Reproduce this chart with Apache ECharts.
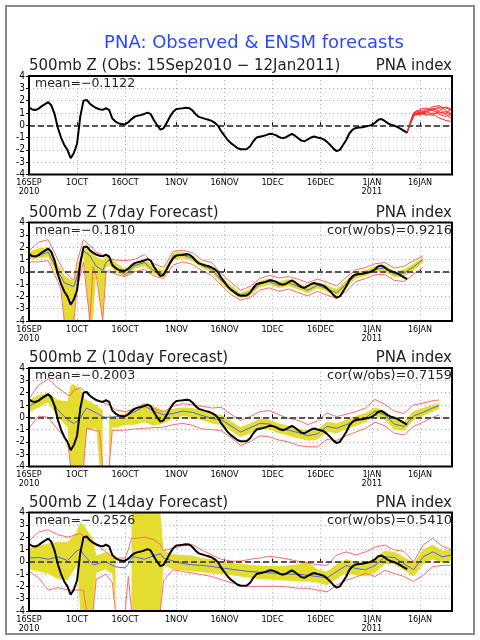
<!DOCTYPE html>
<html><head><meta charset="utf-8">
<script src="https://cdn.jsdelivr.net/npm/echarts@6/dist/echarts.min.js"></script>
<style>html,body{margin:0;padding:0;background:#fff}#c{width:480px;height:640px}</style>
</head><body><div id="c"></div>
<script>
// ---------- axis categories (one per day, 16 Sep 2010 .. 26 Jan 2011) ----------
const MONTHS = ['JAN','FEB','MAR','APR','MAY','JUN','JUL','AUG','SEP','OCT','NOV','DEC'];
const START = Date.UTC(2010, 8, 16);
const NDAYS = 133;
const categories = Array.from({length: NDAYS}, (_, i) => new Date(START + i * 86400000).toISOString().slice(0, 10));
const yTicks = [-4, 4, 1];

// ---------- observed PNA index (daily, from 16 Sep) ----------
const obs = [1.46,1.28,1.24,1.35,1.55,1.72,1.88,1.6,0.9,-0.2,
 -1.0,-1.6,-2.0,-2.68,-2.25,-1.5,0.7,2.0,2.05,1.75,
 1.55,1.4,1.3,1.25,1.38,1.25,0.55,0.3,0.15,0.08,
 0.08,0.25,0.5,0.7,0.78,0.84,0.92,1.02,0.9,0.4,
 0.0,-0.35,-0.25,0.2,0.7,1.1,1.32,1.35,1.38,1.42,
 1.4,1.2,0.9,0.68,0.6,0.52,0.45,0.35,0.2,-0.05,
 -0.5,-0.85,-1.2,-1.45,-1.65,-1.85,-1.95,-1.95,-1.92,-1.7,
 -1.3,-1.0,-0.93,-0.87,-0.8,-0.7,-0.72,-0.8,-0.95,-1.05,
 -1.0,-0.85,-0.7,-0.85,-1.05,-1.25,-1.3,-1.15,-1.0,-0.92,
 -1.0,-1.05,-1.15,-1.35,-1.6,-1.9,-2.1,-2.0,-1.6,-1.2,
 -0.65,-0.35,-0.22,-0.18,-0.16,-0.1,-0.05,0.03,0.2,0.45,
 0.5,0.35,0.15,0.05,-0.03,-0.15,-0.3,-0.45,-0.6];

// ---------- ensemble member forecasts (panel 1) ----------
const memDays = [118,119,120,121,122,124,126,128,130,132];
const mem1 = [-0.6,0.2,0.9,1.1,1.0,1.3,1.2,1.5,1.4,1.2];
const mem2 = [-0.6,0.1,0.8,1.0,0.9,1.0,1.4,1.1,0.9,0.5];
const mem3 = [-0.6,0.3,1.0,1.2,1.1,0.9,0.8,1.2,1.5,1.3];
const mem4 = [-0.6,0.2,0.9,0.8,1.2,1.1,0.9,0.6,0.4,0.3];
const mem5 = [-0.6,0.1,0.7,1.0,0.8,1.2,1.5,1.6,1.2,0.9];
const mem6 = [-0.6,0.2,0.8,0.9,1.0,0.8,1.0,0.9,0.7,1.0];
const mem7 = [-0.6,0.2,1.0,1.1,1.3,1.4,1.2,1.0,1.1,0.7];
const mem8 = [-0.6,0.1,0.8,0.9,0.9,1.1,1.3,1.4,0.9,1.4];

// ---------- 7 day forecast ----------
const p7Days = [0,3,6,9,10,11,14,15,17,19,20,21,23,24,25,27,30,33,36,39,42,45,48,51,54,57,60,63,66,69,72,75,78,81,84,87,90,93,96,99,102,105,108,111,114,117,120,123];
const p7Mean = [1.2,1.3,1.6,0.0,-0.4,-0.9,-1.2,-0.4,1.7,1.3,
 0.85,0.45,0.1,0.75,0.95,0.35,-0.25,0.5,0.75,0.05,
 -0.2,1.3,1.35,1.1,0.5,0.2,-0.7,-1.4,-1.9,-1.7,
 -1.0,-0.8,-1.1,-0.9,-1.2,-1.5,-1.1,-1.4,-1.7,-1.0,
 -0.3,-0.1,0.2,0.3,-0.2,-0.1,0.4,1.0];
const p7Lo = [1.0,1.1,1.2,-0.5,-0.8,-4,-4,-1.0,1.3,-4,
 -4,0.0,-4,0.3,0.5,0.0,-0.45,0.25,0.45,-0.2,
 -0.45,0.95,1.1,0.85,0.3,-0.05,-0.95,-1.65,-2.15,-1.95,
 -1.25,-1.05,-1.35,-1.15,-1.45,-1.75,-1.35,-1.65,-1.95,-1.3,
 -0.55,-0.35,-0.05,0.05,-0.45,-0.4,0.1,0.75];
const p7Hi = [1.6,1.9,2.0,0.6,0.2,-0.3,-0.8,0.4,2.0,1.7,
 1.5,1.2,1.0,1.2,1.2,0.8,0.2,0.8,1.05,0.45,
 0.1,1.55,1.6,1.35,0.75,0.45,-0.4,-1.1,-1.7,-1.4,
 -0.75,-0.55,-0.8,-0.6,-0.95,-1.2,-0.85,-1.1,-1.4,-0.7,
 -0.05,0.15,0.45,0.55,0.05,0.2,0.65,1.2];
const p7RedLo = [0.8,0.8,0.9,-0.8,-1.5,-4,-4,-1.4,0.8,-4,
 0.4,-0.3,-4,-0.1,0.1,-0.2,-0.4,0.0,0.2,-0.35,
 -0.55,0.55,0.8,0.6,0.1,-0.3,-1.1,-1.85,-2.3,-2.1,
 -1.5,-1.3,-1.6,-1.4,-1.7,-1.95,-1.6,-1.9,-2.15,-1.6,
 -0.8,-0.55,-0.25,-0.2,-0.7,-0.8,-0.2,0.35];
const p7RedHi = [1.7,2.4,2.6,1.0,0.5,0.0,-0.7,0.8,2.6,2.1,
 1.9,1.6,1.35,1.35,1.1,0.95,0.9,1.0,1.4,0.65,
 0.35,1.65,1.75,1.55,0.95,0.75,-0.15,-0.85,-1.5,-1.2,
 -0.55,-0.3,-0.5,-0.4,-0.6,-0.9,-0.6,-0.85,-1.15,-0.45,
 0.15,0.35,0.65,0.75,0.3,0.45,0.9,1.3];

// ---------- 10 day forecast ----------
const p10Days = [0,3,6,9,12,13,14,16,17,18,21,22,23,24,25,26,27,30,33,36,39,42,45,48,51,54,57,60,63,66,69,72,75,78,81,84,87,90,93,96,99,102,105,108,111,114,117,120,123,126,128];
const p10Mean = [0.9,1.3,1.8,0.6,-0.2,-0.35,-0.5,-0.1,0.4,0.75,
 0.35,0.2,0.05,0.0,0.0,0.0,0.05,0.1,0.45,0.9,
 0.5,0.2,0.3,0.5,0.4,0.15,-0.1,-0.2,-0.7,-1.2,
 -0.85,-0.5,-0.55,-0.9,-1.05,-1.25,-1.5,-1.35,-0.75,-0.9,
 -0.6,-0.3,-0.05,0.5,0.2,-0.55,-0.75,0.1,0.4,0.75,
 0.95];
const p10Lo = [0.4,0.8,1.2,0.0,-0.8,-4,-4,-4,-4,-1.0,
 -0.9,-4,-4,null,-4,-0.8,-0.9,-0.6,-0.6,-0.4,
 -0.7,-0.5,-0.1,0.1,0.0,-0.25,-0.5,-0.6,-1.1,-1.6,
 -1.3,-0.9,-1.0,-1.3,-1.5,-1.7,-1.9,-1.8,-1.2,-1.3,
 -1.0,-0.7,-0.4,0.15,-0.2,-1.0,-1.1,-0.25,0.1,0.45,
 0.7];
const p10Hi = [1.4,1.8,2.0,1.4,1.3,2.6,2.7,2.3,1.6,1.4,
 1.0,0.8,0.6,null,0.2,0.1,0.1,0.3,0.7,1.1,
 0.9,0.5,0.7,0.8,0.75,0.5,0.3,0.2,-0.3,-0.8,
 -0.5,-0.1,-0.2,-0.5,-0.7,-0.9,-1.1,-1.0,-0.35,-0.5,
 -0.2,0.1,0.35,0.8,0.55,-0.15,-0.35,0.5,0.75,1.0,
 1.15];
const p10RedLo = [-0.9,0.1,0.0,-1.0,-1.9,-4,-4,-4,-4,-0.9,
 -1.1,-1.1,-4,-4,-4,-1.06,-1.06,-1.06,-0.95,-0.9,
 -0.85,-0.8,-0.6,-0.5,-0.65,-0.95,-1.0,-1.1,-1.65,-2.3,
 -2.0,-1.5,-1.6,-1.85,-2.0,-2.3,-2.4,-2.4,-1.8,-1.9,
 -1.5,-1.2,-0.9,-0.4,-0.7,-1.3,-1.45,-0.75,-0.4,0.0,
 0.2];
const p10RedHi = [1.5,2.6,3.1,2.4,1.8,1.8,2.2,2.4,2.2,1.9,
 1.4,1.3,1.2,1.1,1.0,0.8,0.6,0.45,0.7,1.1,
 0.7,0.45,0.9,1.1,1.0,0.9,0.75,0.8,0.25,-0.25,
 0.05,0.45,0.55,0.2,-0.1,-0.25,-0.6,-0.3,0.35,0.05,
 0.25,0.45,0.75,1.45,1.05,0.5,0.3,1.0,1.15,1.35,
 1.4];

// ---------- 14 day forecast ----------
const p14Days = [0,3,6,9,12,15,16,17,18,20,21,22,24,26,27,28,30,31,32,33,36,39,41,42,45,48,51,54,57,60,63,66,69,72,75,78,81,84,87,90,93,96,99,102,105,108,111,114,117,120,123,126,129,132];
const p14Mean = [0.3,0.35,0.2,0.4,0.1,0.9,1.0,0.6,0.3,-0.25,
 -0.2,-0.1,0.0,-0.3,-0.4,-0.45,-0.5,-0.2,0.3,0.4,
 0.2,0.5,0.65,0.3,0.05,-0.15,-0.25,-0.3,-0.38,-0.5,
 -0.6,-0.7,-0.8,-0.85,-0.9,-0.95,-1.0,-1.0,-1.1,-1.2,
 -1.3,-0.8,-0.3,-0.55,-0.65,-0.3,0.4,0.35,-0.15,-0.65,
 0.4,0.8,0.4,0.55];
const p14Lo = [-0.6,-0.8,-1.0,-1.4,-1.5,-0.3,-4,-4,-4,-4,
 -0.9,-0.8,-0.6,-1.0,-4,null,null,null,-4,-4,
 -4,-4,-4,-0.3,-0.6,-0.7,-0.8,-0.85,-0.95,-1.0,
 -1.1,-1.2,-1.3,-1.4,-1.45,-1.5,-1.55,-1.6,-1.6,-1.7,
 -1.9,-1.4,-0.9,-1.1,-1.2,-0.9,-0.2,-0.2,-0.7,-1.2,
 -0.2,0.2,-0.1,0.1];
const p14Hi = [1.1,1.3,1.5,1.6,1.6,2.5,3.2,3.0,2.6,1.9,
 0.5,0.6,0.8,0.4,0.35,null,null,null,4,4,
 4,4,4,0.9,0.6,0.55,0.5,0.3,0.2,0.0,
 -0.1,-0.15,-0.25,-0.3,-0.35,-0.35,-0.3,-0.2,0.0,-0.6,
 -0.8,-0.2,0.2,0.0,-0.1,0.3,0.9,0.8,0.4,-0.1,
 1.0,1.4,0.9,1.0];
const p14RedLo = [-0.8,-1.3,-2.3,-2.1,-2.3,-2.3,-2.3,-2.3,-4,-4,
 -1.4,-1.3,-1.0,-1.7,-4,-4,-4,-1.2,-4,-4,
 -4,-4,-4,-1.5,-0.65,-0.8,-0.92,-1.05,-1.2,-1.45,
 -1.7,-1.9,-2.0,-2.0,-2.0,-2.0,-2.05,-2.15,-2.15,-2.3,
 -2.45,-1.9,-1.5,-1.25,-0.95,-1.2,-0.7,-0.95,-1.2,-1.6,
 -1.1,-0.4,-0.3,-0.27];
const p14RedHi = [1.7,2.4,2.6,2.2,2.0,2.2,2.3,2.1,1.8,1.6,
 1.5,1.2,0.8,0.45,0.3,0.3,0.3,1.0,1.9,1.9,
 2.0,1.8,1.4,0.9,1.1,1.3,1.39,0.95,0.55,0.2,
 0.05,0.05,0.2,0.3,0.44,0.35,0.2,0.03,-0.1,-0.24,
 -0.3,0.55,0.8,0.55,0.8,1.2,1.36,0.95,0.85,0.0,
 1.36,1.9,1.25,0.95];

// ---------- texts ----------
const mainTitle = 'PNA: Observed & ENSM forecasts';
const panelTitles = ['500mb Z (Obs: 15Sep2010 \u2212 12Jan2011)', '500mb Z (7day Forecast)', '500mb Z (10day Forecast)', '500mb Z (14day Forecast)'];
const panelRight = 'PNA index';
const meanTexts = ['mean=\u22120.1122', 'mean=\u22120.1810', 'mean=\u22120.2003', 'mean=\u22120.2526'];
const corTexts = [null, 'cor(w/obs)=0.9216', 'cor(w/obs)=0.7159', 'cor(w/obs)=0.5410'];

// ---------- layout / style ----------
const GL = 29, GW = 423, GH = 98.5;
const TOPS = [76, 222.5, 368, 512.5];
const YELLOW = '#e4dc2e', RED = '#ff6a6a', BLUE = '#4b68f0', BLACK = '#000';
const FONT = '"DejaVu Sans", sans-serif';
const SMALL = '"DejaVu Sans Condensed", "Liberation Sans Narrow", sans-serif';

function dateOf(cat) { const p = cat.split('-'); return {y: +p[0], m: +p[1] - 1, d: +p[2]}; }
function isTick(index, value) { const t = dateOf(categories[index]); return t.d === 1 || t.d === 16; }
function labelFmt(value, index) {
  const t = dateOf(value);
  let s = t.d + MONTHS[t.m];
  if (index === 0 || (t.m === 0 && t.d === 1)) s += '\n' + t.y;
  return s;
}

function lineSeries(gi, xs, ys, color, width, z, extra) {
  return Object.assign({
    type: 'line', xAxisIndex: gi, yAxisIndex: gi, silent: true, animation: false,
    data: xs.map((x, i) => [x, ys[i]]), symbol: 'none', showSymbol: false,
    lineStyle: {color: color, width: width}, z: z, clip: true
  }, extra || {});
}
function bandSeries(gi, xs, lo, hi) {
  return {
    type: 'custom', xAxisIndex: gi, yAxisIndex: gi, silent: true, z: 1, animation: false,
    data: [[0, 0]], clip: true,
    renderItem: function (params, api) {
      const children = [];
      let run = [];
      const flush = function () {
        if (run.length > 1) {
          const pts = run.map(i => api.coord([xs[i], hi[i]]))
            .concat(run.slice().reverse().map(i => api.coord([xs[i], lo[i]])));
          children.push({type: 'polygon', shape: {points: pts}, style: {fill: YELLOW, stroke: null}});
        }
        run = [];
      };
      for (let i = 0; i < xs.length; i++) {
        if (lo[i] == null || hi[i] == null) flush(); else run.push(i);
      }
      flush();
      return {type: 'group', children: children};
    }
  };
}
const zeroLine = {
  silent: true, symbol: ['none', 'none'], label: {show: false}, animation: false,
  lineStyle: {color: '#555', type: [6, 3], width: 2}, data: [{yAxis: 0}]
};

const grids = TOPS.map(t => ({left: GL, top: t, width: GW, height: GH, show: false}));
const xAxes = TOPS.map((t, i) => ({
  type: 'category', gridIndex: i, data: categories, boundaryGap: false,
  axisLine: {show: false},
  axisTick: {show: true, inside: true, length: 3, interval: isTick, lineStyle: {color: '#000'}},
  axisLabel: {interval: isTick, formatter: labelFmt, fontSize: 9, lineHeight: 9, fontFamily: SMALL, color: '#000', margin: 4},
  splitLine: {show: true, interval: isTick, lineStyle: {color: '#aaa', type: [1, 3], width: 1}}
}));
const yAxes = TOPS.map((t, i) => ({
  type: 'value', gridIndex: i, min: yTicks[0], max: yTicks[1], interval: yTicks[2],
  axisLine: {show: false},
  axisTick: {show: true, length: 3, lineStyle: {color: '#000'}},
  axisLabel: {fontSize: 10, fontFamily: SMALL, color: '#000', margin: 4},
  splitLine: {show: true, lineStyle: {color: '#aaa', type: [1, 3], width: 1}}
}));

const series = [];
// panel 1
const members = [mem1, mem2, mem3, mem4, mem5, mem6, mem7, mem8];
members.forEach((m, k) => series.push(lineSeries(0, memDays, m, '#ff2a2a', 1, 3, k === 0 ? {markLine: zeroLine} : null)));
series.push(lineSeries(0, obs.map((v, i) => i), obs, BLACK, 2, 5));
// panels 2-4
const fc = [
  [p7Days, p7Mean, p7Lo, p7Hi, p7RedLo, p7RedHi],
  [p10Days, p10Mean, p10Lo, p10Hi, p10RedLo, p10RedHi],
  [p14Days, p14Mean, p14Lo, p14Hi, p14RedLo, p14RedHi]
];
fc.forEach((f, k) => {
  const gi = k + 1;
  series.push(bandSeries(gi, f[0], f[2], f[3]));
  series.push(lineSeries(gi, f[0], f[4], RED, 1, 2));
  series.push(lineSeries(gi, f[0], f[5], RED, 1, 2));
  series.push(lineSeries(gi, f[0], f[1], BLUE, 1, 3, {markLine: zeroLine}));
  series.push(lineSeries(gi, obs.map((v, i) => i), obs, BLACK, 2, 5));
});

const graphic = [
  {type: 'rect', z: 100, shape: {x: 6, y: 6, width: 468, height: 628}, style: {fill: null, stroke: '#8a8a8a', lineWidth: 2}},
  {type: 'text', z: 100, x: 254, y: 43, style: {text: mainTitle, font: '18px ' + FONT, fill: '#2a48ff', align: 'center', verticalAlign: 'middle'}}
];
TOPS.forEach((t, i) => {
  graphic.push({type: 'rect', z: 100, shape: {x: GL, y: t, width: GW, height: GH}, style: {fill: null, stroke: '#000', lineWidth: 2}});
  graphic.push({type: 'text', z: 100, x: GL, y: t - 9.5, style: {text: panelTitles[i], font: '15px ' + FONT, fill: '#222', align: 'left', verticalAlign: 'middle'}});
  graphic.push({type: 'text', z: 100, x: GL + GW, y: t - 9.5, style: {text: panelRight, font: '15px ' + FONT, fill: '#222', align: 'right', verticalAlign: 'middle'}});
  graphic.push({type: 'text', z: 100, x: GL + 6, y: t + 8, style: {text: meanTexts[i], font: '12.5px ' + FONT, fill: '#222', align: 'left', verticalAlign: 'middle'}});
  if (corTexts[i]) graphic.push({type: 'text', z: 100, x: GL + GW, y: t + 8, style: {text: corTexts[i], font: '13px ' + FONT, fill: '#222', align: 'right', verticalAlign: 'middle'}});
});

const chart = echarts.init(document.getElementById('c'), null, {renderer: 'canvas'});
chart.setOption({
  animation: false, backgroundColor: '#fff',
  grid: grids, xAxis: xAxes, yAxis: yAxes, series: series, graphic: graphic
});
</script></body></html>
